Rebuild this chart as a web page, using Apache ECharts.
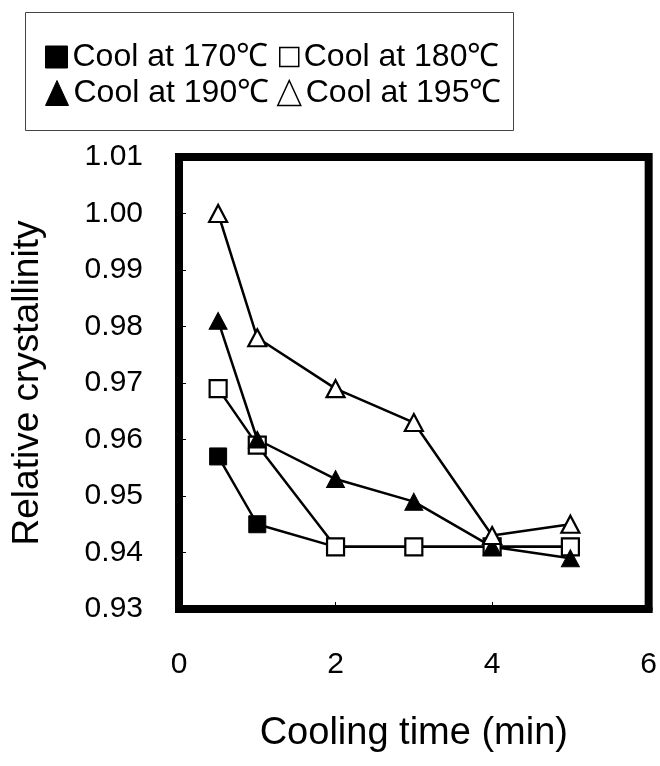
<!DOCTYPE html>
<html>
<head>
<meta charset="utf-8">
<title>Relative crystallinity vs cooling time</title>
<script src="https://cdn.jsdelivr.net/npm/echarts@6/dist/echarts.min.js"></script>
<style>
  html, body { margin: 0; padding: 0; background: #fff; }
  #chart { width: 660px; height: 766px; }
</style>
</head>
<body>
<div id="chart"></div>
<script>
// cooling time (min)
const coolingTime = [0.5, 1, 2, 3, 4, 5];

// relative crystallinity per cooling temperature
const cool170 = [0.957, 0.945, 0.941, 0.941, 0.941, 0.941];
const cool180 = [0.969, 0.959, 0.941, 0.941, 0.941, 0.941];
const cool190 = [0.981, 0.960, 0.953, 0.949, 0.941, 0.939];
const cool195 = [1.000, 0.978, 0.969, 0.963, 0.943, 0.945];

const seriesNames = ['Cool at 170℃', 'Cool at 180℃', 'Cool at 190℃', 'Cool at 195℃'];

const FONT = '"Liberation Sans", Arial, sans-serif';

const chart = echarts.init(document.getElementById('chart'));

const pairs = (ys) => coolingTime.map((x, i) => [x, ys[i]]);

const filled = { color: '#000', borderColor: '#000', borderWidth: 1 };
const hollow = { color: '#fff', borderColor: '#000', borderWidth: 2.2 };

function makeSeries(name, ys, symbol, size, style) {
    return {
        name: name,
        type: 'line',
        data: pairs(ys),
        symbol: symbol,
        symbolSize: size,
        showSymbol: true,
        lineStyle: { color: '#000', width: 2.5 },
        itemStyle: style,
        emphasis: { disabled: true },
        animation: false,
    };
}

// one legend per entry so each sits where it does in the figure
function legendAt(name, left, top, icon, w, h, style) {
    return {
        data: [{ name: name, icon: icon }],
        left: left,
        top: top,
        padding: 0,
        itemWidth: w,
        itemHeight: h,
        selectedMode: false,
        itemStyle: style,
        textStyle: { fontFamily: FONT, fontSize: 32, color: '#000' },
    };
}

const option = {
    backgroundColor: '#fff',
    animation: false,
    graphic: [
        {
            type: 'rect',
            shape: { x: 25.5, y: 12.5, width: 488, height: 118 },
            style: { fill: 'none', stroke: '#444', lineWidth: 1 },
            silent: true,
        },
    ],
    legend: [
        legendAt(seriesNames[0], 45, 41, 'rect', 22, 22, filled),
        legendAt(seriesNames[1], 279, 41, 'rect', 19, 19, { color: '#fff', borderColor: '#000', borderWidth: 1.5 }),
        legendAt(seriesNames[2], 45, 77, 'triangle', 23, 25, filled),
        legendAt(seriesNames[3], 277, 77, 'triangle', 23, 25, { color: '#fff', borderColor: '#000', borderWidth: 1.5 }),
    ],
    grid: {
        left: 179,
        right: 11,
        top: 157,
        bottom: 157,
        show: true,
        borderColor: '#000',
        borderWidth: 8,
        backgroundColor: '#fff',
    },
    xAxis: {
        type: 'value',
        min: 0,
        max: 6,
        interval: 2,
        name: 'Cooling time (min)',
        nameLocation: 'middle',
        nameGap: 106,
        nameTextStyle: { fontFamily: FONT, fontSize: 38, color: '#000' },
        axisLine: { show: true, lineStyle: { color: '#000', width: 8 } },
        axisTick: { show: true, inside: true, length: 7, lineStyle: { color: '#000', width: 1 } },
        axisLabel: { margin: 41, fontFamily: FONT, fontSize: 30, color: '#000' },
        splitLine: { show: false },
    },
    yAxis: {
        type: 'value',
        min: 0.93,
        max: 1.01,
        interval: 0.01,
        name: 'Relative crystallinity',
        nameLocation: 'middle',
        nameGap: 133,
        nameTextStyle: { fontFamily: FONT, fontSize: 37, color: '#000' },
        axisLine: { show: true, lineStyle: { color: '#000', width: 8 } },
        axisTick: { show: true, inside: true, length: 7, lineStyle: { color: '#000', width: 1 } },
        axisLabel: {
            margin: 36,
            fontFamily: FONT,
            fontSize: 30,
            color: '#000',
            formatter: (v) => v.toFixed(2),
        },
        splitLine: { show: false },
    },
    series: [
        makeSeries(seriesNames[0], cool170, 'rect', 17, filled),
        makeSeries(seriesNames[1], cool180, 'rect', 17, hollow),
        makeSeries(seriesNames[2], cool190, 'triangle', [18, 17], filled),
        makeSeries(seriesNames[3], cool195, 'triangle', [18, 17], hollow),
    ],
};

chart.setOption(option);

window.addEventListener('resize', () => chart.resize());
</script>
</body>
</html>
